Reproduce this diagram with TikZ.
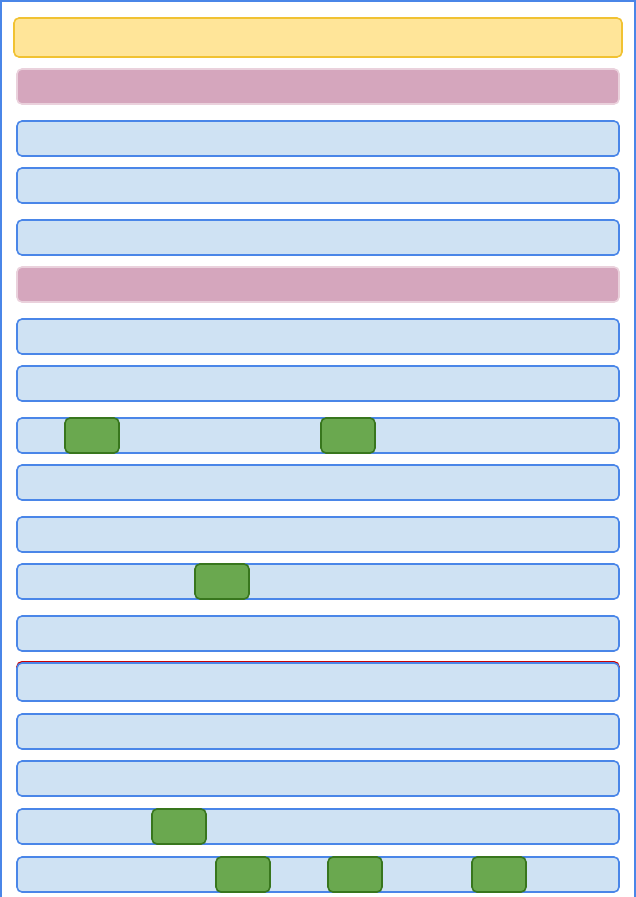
\documentclass[tikz,border=0pt]{standalone}
\definecolor{rowfill}{HTML}{CFE2F3}
\definecolor{rowline}{HTML}{4A86E8}
\definecolor{yelfill}{HTML}{FFE599}
\definecolor{yelline}{HTML}{F1C232}
\definecolor{pinkfill}{HTML}{D5A6BD}
\definecolor{pinkline}{HTML}{EAD1DC}
\definecolor{grnfill}{HTML}{6AA84F}
\definecolor{grnline}{HTML}{38761D}
\definecolor{redline}{HTML}{CC0000}
\tikzset{
  basebox/.style={line width=1.6pt, rounded corners=5pt, inner sep=0pt, outer sep=0pt},
  rowbox/.style={basebox, draw=rowline, fill=rowfill, minimum width=602pt, minimum height=35pt},
  yelbox/.style={basebox, draw=yelline, fill=yelfill, minimum width=608pt, minimum height=39pt},
  pinkbox/.style={basebox, draw=pinkline, fill=pinkfill, minimum width=602pt, minimum height=35pt},
  redbox/.style={basebox, draw=redline, minimum width=602pt, minimum height=38pt},
  bigrow/.style={rowbox, minimum height=38pt},
  grnbox/.style={basebox, draw=grnline, fill=grnfill, minimum width=54pt, minimum height=35pt},
  frame/.style={draw=rowline, line width=2pt}
}
\begin{document}
\begin{tikzpicture}[x=1pt,y=-1pt]
\useasboundingbox (0,0) rectangle (636,897);
\draw[frame] (1,1) rectangle (634.5,905);
\node[yelbox] (y1) at (318,37.5) {};
\node[pinkbox] (p1) at (318,86.5) {};
\node[rowbox] (r1) at (318,138.5) {};
\node[rowbox] (r2) at (318,185.5) {};
\node[rowbox] (r3) at (318,237.5) {};
\node[pinkbox] (p2) at (318,284.5) {};
\node[rowbox] (r4) at (318,336.5) {};
\node[rowbox] (r5) at (318,383.5) {};
\node[rowbox] (r6) at (318,435.5) {};
\node[rowbox] (r7) at (318,482.5) {};
\node[rowbox] (r8) at (318,534.5) {};
\node[rowbox] (r9) at (318,581.5) {};
\node[rowbox] (r10) at (318,633.5) {};
\node[redbox] (red1) at (318,680.8) {};
\node[bigrow] (r11) at (318,682) {};
\node[rowbox] (r12) at (318,731.5) {};
\node[rowbox] (r13) at (318,778.5) {};
\node[rowbox] (r14) at (318,826.5) {};
\node[rowbox] (r15) at (318,874.5) {};
\node[grnbox] (g1) at (92,435.5) {};
\node[grnbox] (g2) at (348,435.5) {};
\node[grnbox] (g3) at (222,581.5) {};
\node[grnbox] (g4) at (179,826.5) {};
\node[grnbox] (g5) at (243,874.5) {};
\node[grnbox] (g6) at (355,874.5) {};
\node[grnbox] (g7) at (499,874.5) {};
\end{tikzpicture}
\end{document}
